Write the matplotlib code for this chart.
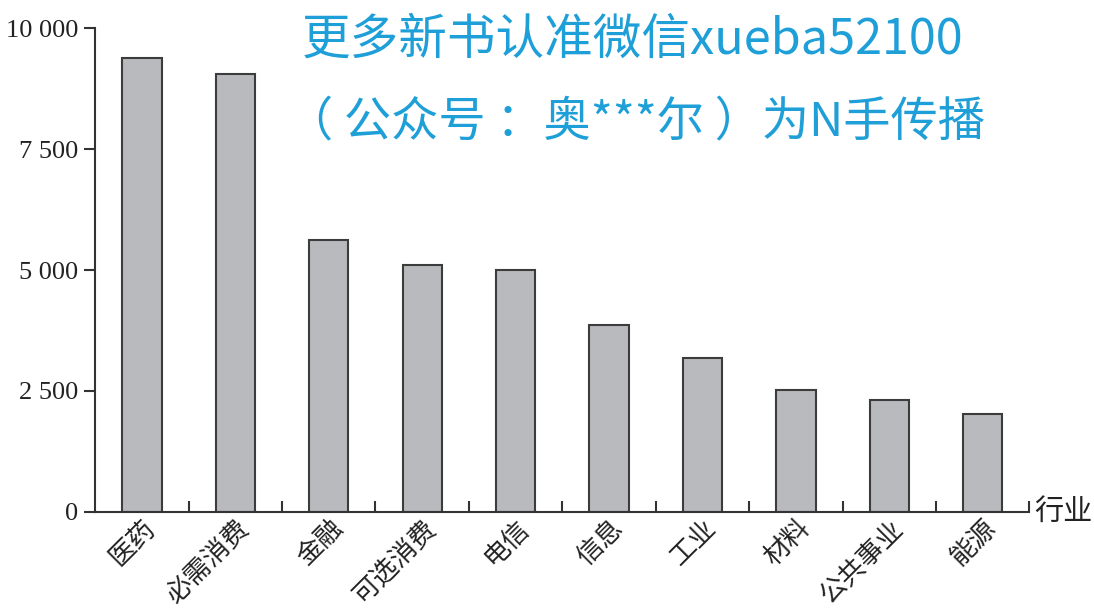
import matplotlib
matplotlib.use('Agg')
from matplotlib import pyplot as plt

# industries and values
industries = ['医药', '必需消费', '金融', '可选消费', '电信', '信息', '工业', '材料', '公共事业', '能源']
values = [9380, 9060, 5630, 5110, 5000, 3870, 3180, 2520, 2320, 2020]
y_ticks = [0, 2500, 5000, 7500, 10000]
y_labels = ['0', '2 500', '5 000', '7 500', '10 000']

cjk = ['Noto Sans CJK SC', 'DejaVu Sans']

fig = plt.figure(figsize=(10.94, 6.13), dpi=100)
ax = fig.add_axes([0.087, 0.165, 0.854, 0.789])

x = list(range(len(industries)))
ax.bar(x, values, width=0.42, color='#b9babd', edgecolor='#3c3c3c', linewidth=1.5)

ax.set_xlim(-0.5, len(industries) - 0.5)
ax.set_ylim(0, 10000)

for side in ['top', 'right']:
    ax.spines[side].set_visible(False)
for side in ['left', 'bottom']:
    ax.spines[side].set_color('#333333')
    ax.spines[side].set_linewidth(1.5)

ax.set_yticks(y_ticks)
ax.set_yticklabels(y_labels, family='Liberation Serif', fontsize=19, color='#222222')
ax.tick_params(axis='y', direction='out', length=8, width=1.5, color='#333333', pad=4)

# labels at bar centres, small ticks at the boundaries between bars
ax.set_xticks(x)
ax.set_xticklabels(industries, family=cjk, fontsize=19, rotation=45,
                   ha='right', va='top', rotation_mode='anchor', color='#222222')
ax.tick_params(axis='x', length=0, pad=2)
ax.set_xticks([i + 0.5 for i in x], minor=True)
ax.tick_params(axis='x', which='minor', direction='in', length=8, width=1.5, color='#333333')

ax.text(1.005, 0, '行业', transform=ax.transAxes, family=cjk, fontsize=21,
        ha='left', va='center', color='#222222')

# watermark
wm = '#1e9fd8'
fig.text(0.578, 0.935, '更多新书认准微信xueba52100', family=cjk, fontsize=35,
         color=wm, ha='center', va='center')
fig.text(0.581, 0.8, '（ 公众号 ：奥***尔 ）为N手传播', family=cjk, fontsize=34,
         color=wm, ha='center', va='center')

fig.savefig('out.png', dpi=100)
